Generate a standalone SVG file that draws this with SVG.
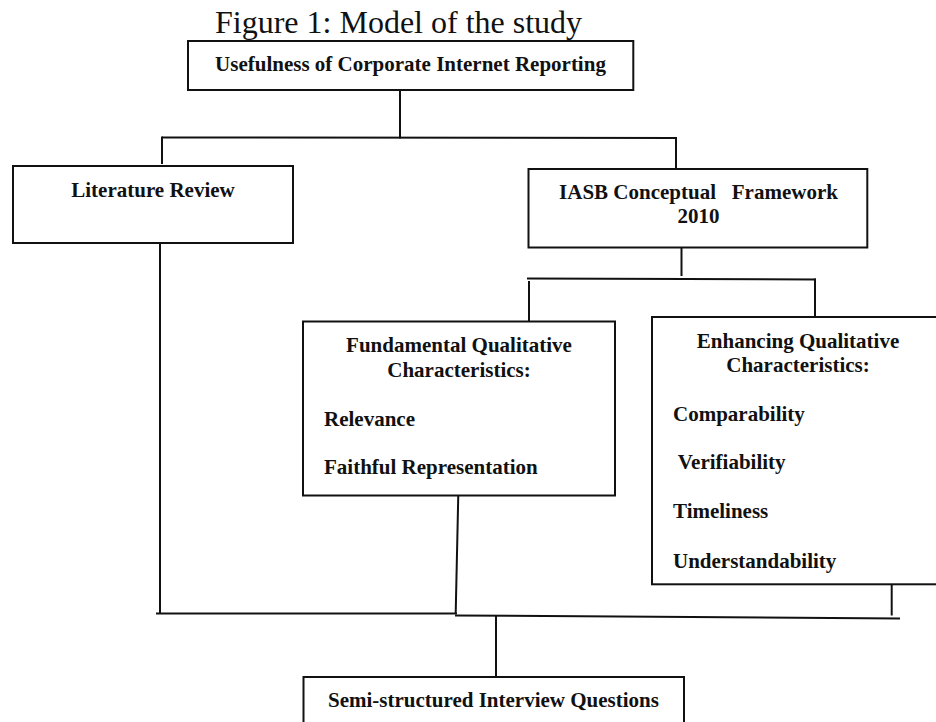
<svg xmlns="http://www.w3.org/2000/svg" width="936" height="722" viewBox="0 0 936 722">
<style>
.box{fill:#fff;stroke:#111;stroke-width:2}
.ln{fill:none;stroke:#111;stroke-width:2}
.t{font-family:"Liberation Serif","Times New Roman",serif;font-weight:bold;font-size:21px;fill:#111;white-space:pre}
.c{text-anchor:middle}
.title{font-family:"Liberation Serif","Times New Roman",serif;font-size:32px;fill:#111}
</style>
<rect width="936" height="722" fill="#fff"/>
<text class="title" x="215" y="33">Figure 1: Model of the study</text>
<g id="connectors">
<line class="ln" x1="400" y1="90" x2="400" y2="138.5"/>
<line class="ln" x1="162" y1="137.5" x2="677" y2="138"/>
<line class="ln" x1="162" y1="136.5" x2="162" y2="164"/>
<line class="ln" x1="676" y1="137" x2="676" y2="168"/>
<line class="ln" x1="160" y1="243" x2="160" y2="614"/>
<line class="ln" x1="681.5" y1="247.5" x2="681.5" y2="276"/>
<line class="ln" x1="527" y1="278.5" x2="816" y2="279.5"/>
<line class="ln" x1="529" y1="281" x2="529" y2="321"/>
<line class="ln" x1="815" y1="278.5" x2="815" y2="317"/>
<line class="ln" x1="458.3" y1="494" x2="455.7" y2="613"/>
<line class="ln" x1="156" y1="613.5" x2="457" y2="613.5"/>
<line class="ln" x1="455" y1="615.5" x2="900" y2="618.5"/>
<line class="ln" x1="891.7" y1="584" x2="891.7" y2="615.5"/>
<line class="ln" x1="496" y1="615" x2="496" y2="677"/>
</g>
<g id="usefulness">
<rect class="box" x="188" y="41" width="445.3" height="49"/>
<text class="t c" x="410.5" y="71">Usefulness of Corporate Internet Reporting</text>
</g>
<g id="literature">
<rect class="box" x="13" y="166" width="280" height="77"/>
<text class="t c" x="153" y="197">Literature Review</text>
</g>
<g id="iasb">
<rect class="box" x="528.5" y="169" width="338.8" height="78.5"/>
<text class="t c" x="698.5" y="199.3">IASB Conceptual   Framework</text>
<text class="t c" x="698.5" y="223.3">2010</text>
</g>
<g id="fundamental">
<rect class="box" x="303" y="321.5" width="312" height="174"/>
<text class="t c" x="459" y="351.7">Fundamental Qualitative</text>
<text class="t c" x="459" y="376.7">Characteristics:</text>
<text class="t" x="324" y="426">Relevance</text>
<text class="t" x="324" y="474.3">Faithful Representation</text>
</g>
<g id="enhancing">
<rect class="box" x="652" y="317" width="300" height="267.3"/>
<text class="t c" x="798" y="348.3">Enhancing Qualitative</text>
<text class="t c" x="798" y="371.7">Characteristics:</text>
<text class="t" x="673" y="420.7">Comparability</text>
<text class="t" x="673" y="469.3"> Verifiability</text>
<text class="t" x="673" y="518.3">Timeliness</text>
<text class="t" x="673" y="568.3">Understandability</text>
</g>
<g id="semi">
<rect class="box" x="303.5" y="677" width="380.5" height="60"/>
<text class="t c" x="493.5" y="707.3">Semi-structured Interview Questions</text>
</g>
</svg>
